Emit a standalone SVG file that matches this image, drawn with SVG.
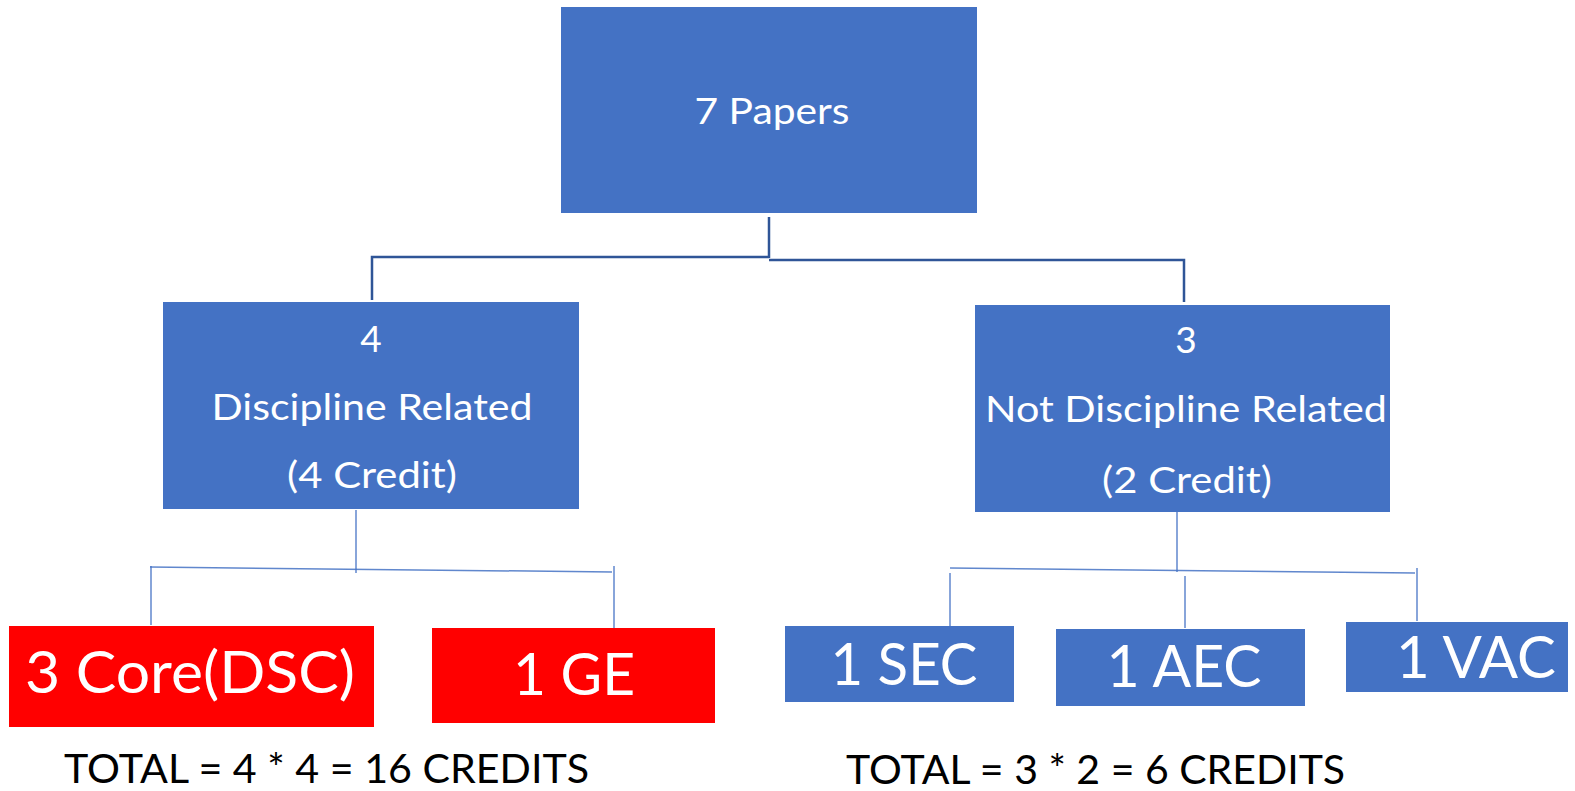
<svg xmlns="http://www.w3.org/2000/svg" width="1575" height="791" viewBox="0 0 1575 791">
<style>
.box{fill:#4472C4;}
.red{fill:#FF0000;}
.t{font-family:Lato,"Open Sans","Liberation Sans",sans-serif;fill:#FFFFFF;text-anchor:middle;}
.m{font-size:37px;}
.b{font-size:58px;}
.tot{font-family:Lato,"Open Sans","Liberation Sans",sans-serif;fill:#000000;font-size:40px;}
.c1{stroke:#2F5597;stroke-width:2.5;fill:none;}
.c2{stroke:#4472C4;stroke-width:1.5;fill:none;opacity:0.85;}
</style>
<rect width="1575" height="791" fill="#FFFFFF"/>
<g id="connectors">
<polyline class="c1" points="769,217 769,258"/>
<polyline class="c1" points="372,300 372,257 769,257"/>
<polyline class="c1" points="769,260 1184,260 1184,302"/>
<line class="c2" x1="356" y1="510" x2="356" y2="573"/>
<line class="c2" x1="150" y1="567" x2="612" y2="572"/>
<line class="c2" x1="151" y1="566" x2="151" y2="625"/>
<line class="c2" x1="614" y1="566" x2="614" y2="628"/>
<line class="c2" x1="1177" y1="512" x2="1177" y2="572"/>
<line class="c2" x1="950" y1="568" x2="1415" y2="573"/>
<line class="c2" x1="950" y1="573" x2="950" y2="626"/>
<line class="c2" x1="1185" y1="576" x2="1185" y2="628"/>
<line class="c2" x1="1417" y1="568" x2="1417" y2="621"/>
</g>
<g id="n-top">
<rect class="box" x="561" y="7" width="416" height="206"/>
<text class="t m" x="772" y="124" textLength="155" lengthAdjust="spacingAndGlyphs">7 Papers</text>
</g>
<g id="n-discipline">
<rect class="box" x="163" y="302" width="416" height="207"/>
<text class="t m" x="371" y="352">4</text>
<text class="t m" x="372" y="420" textLength="321" lengthAdjust="spacingAndGlyphs">Discipline Related</text>
<text class="t m" x="372" y="488" textLength="170" lengthAdjust="spacingAndGlyphs">(4 Credit)</text>
</g>
<g id="n-notdiscipline">
<rect class="box" x="975" y="305" width="415" height="207"/>
<text class="t m" x="1186" y="353">3</text>
<text class="t m" x="1186" y="422" textLength="402" lengthAdjust="spacingAndGlyphs">Not Discipline Related</text>
<text class="t m" x="1187" y="493" textLength="170" lengthAdjust="spacingAndGlyphs">(2 Credit)</text>
</g>
<g id="n-core">
<rect class="red" x="9" y="626" width="365" height="101"/>
<text class="t b" x="190" y="693" textLength="330" lengthAdjust="spacingAndGlyphs">3 Core(DSC)</text>
</g>
<g id="n-ge">
<rect class="red" x="432" y="628" width="283" height="95"/>
<text class="t b" x="574" y="695" textLength="122" lengthAdjust="spacingAndGlyphs">1 GE</text>
</g>
<g id="n-sec">
<rect class="box" x="785" y="626" width="229" height="76"/>
<text class="t b" x="904" y="685" textLength="147" lengthAdjust="spacingAndGlyphs">1 SEC</text>
</g>
<g id="n-aec">
<rect class="box" x="1056" y="629" width="249" height="77"/>
<text class="t b" x="1184" y="687" textLength="155" lengthAdjust="spacingAndGlyphs">1 AEC</text>
</g>
<g id="n-vac">
<rect class="box" x="1346" y="622" width="222" height="70"/>
<text class="t b" x="1476" y="678" textLength="160" lengthAdjust="spacingAndGlyphs">1 VAC</text>
</g>
<g id="totals">
<text class="tot" x="64" y="783" textLength="525" lengthAdjust="spacingAndGlyphs">TOTAL = 4 * 4 = 16 CREDITS</text>
<text class="tot" x="846" y="784" textLength="499" lengthAdjust="spacingAndGlyphs">TOTAL = 3 * 2 = 6 CREDITS</text>
</g>
</svg>
